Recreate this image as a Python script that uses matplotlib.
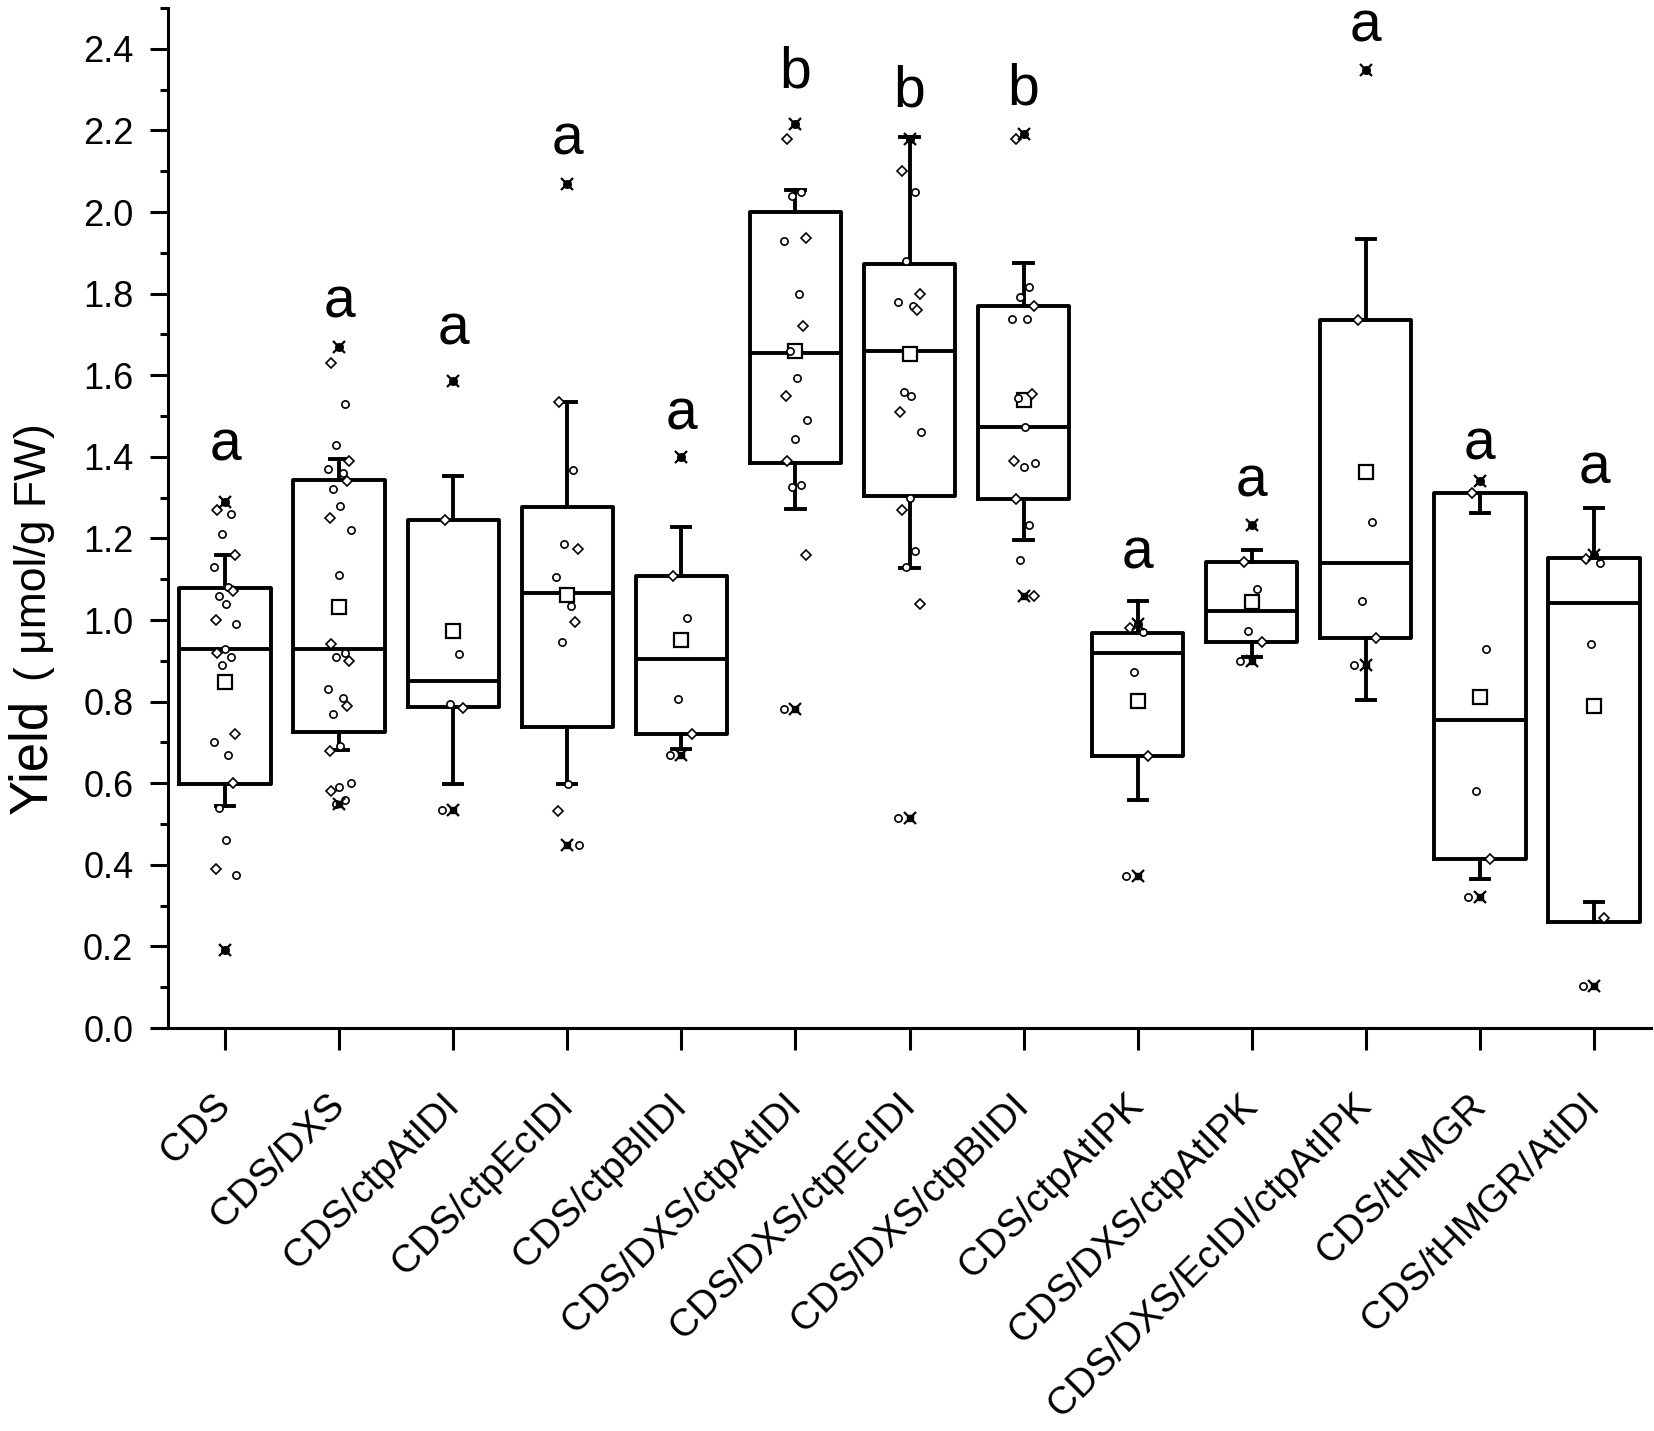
import matplotlib
matplotlib.use('Agg')
import matplotlib.pyplot as plt
from matplotlib.ticker import MultipleLocator, FormatStrFormatter
import numpy as np

plt.rcParams['font.family'] = ['Liberation Sans', 'DejaVu Sans']

categories = ['CDS', 'CDS/DXS', 'CDS/ctpAtIDI', 'CDS/ctpEcIDI', 'CDS/ctpBlIDI',
              'CDS/DXS/ctpAtIDI', 'CDS/DXS/ctpEcIDI', 'CDS/DXS/ctpBlIDI',
              'CDS/ctpAtIPK', 'CDS/DXS/ctpAtIPK', 'CDS/DXS/EcIDI/ctpAtIPK',
              'CDS/tHMGR', 'CDS/tHMGR/AtIDI']

q1 = [0.597, 0.726, 0.787, 0.738, 0.720, 1.385, 1.305, 1.297, 0.667, 0.947, 0.956, 0.413, 0.260]
median = [0.928, 0.928, 0.851, 1.067, 0.905, 1.655, 1.660, 1.473, 0.919, 1.021, 1.140, 0.755, 1.041]
q3 = [1.078, 1.342, 1.245, 1.276, 1.107, 2.001, 1.872, 1.769, 0.969, 1.142, 1.736, 1.311, 1.151]
whisker_low = [0.543, 0.681, 0.598, 0.598, 0.683, 1.273, 1.127, 1.197, 0.559, 0.910, 0.804, 0.365, 0.309]
whisker_high = [1.160, 1.394, 1.353, 1.535, 1.227, 2.053, 2.184, 1.876, 1.046, 1.172, 1.935, 1.262, 1.275]
mean = [0.848, 1.033, 0.974, 1.062, 0.950, 1.660, 1.653, 1.539, 0.801, 1.044, 1.363, 0.811, 0.790]

pts_cds = [1.29, 1.27, 1.26, 1.21, 1.16, 1.13, 1.08, 1.07, 1.06, 1.04, 1.00, 0.99, 0.93,
           0.92, 0.91, 0.89, 0.72, 0.70, 0.67, 0.60, 0.54, 0.46, 0.39, 0.375, 0.19]
pts_dxs = [1.67, 1.63, 1.53, 1.43, 1.39, 1.37, 1.36, 1.34, 1.32, 1.28, 1.25, 1.22, 1.11, 0.94,
           0.92, 0.91, 0.90, 0.83, 0.81, 0.79, 0.77, 0.69, 0.68, 0.60, 0.59, 0.58, 0.56, 0.55]
pts_at_idi = [1.587, 1.245, 0.917, 0.795, 0.785, 0.535]
pts_ec_idi = [2.068, 1.535, 1.368, 1.186, 1.174, 1.105, 1.035, 0.994, 0.945, 0.598, 0.533, 0.449]
pts_bl_idi = [1.40, 1.107, 1.005, 0.806, 0.720, 0.670]
pts_dxs_at_idi = [2.216, 2.18, 2.05, 2.04, 1.936, 1.93, 1.80, 1.72, 1.66, 1.593, 1.55, 1.49,
                  1.444, 1.39, 1.33, 1.325, 1.16, 0.783]
pts_dxs_ec_idi = [2.18, 2.10, 2.05, 1.88, 1.80, 1.78, 1.77, 1.76, 1.56, 1.55, 1.51, 1.46,
                  1.30, 1.27, 1.17, 1.13, 1.04, 0.514]
pts_dxs_bl_idi = [2.19, 2.18, 1.817, 1.792, 1.769, 1.737, 1.737, 1.553, 1.545, 1.473, 1.39,
                  1.384, 1.376, 1.297, 1.232, 1.146, 1.060]
pts_at_ipk = [0.99, 0.98, 0.97, 0.872, 0.667, 0.373]
pts_dxs_at_ipk = [1.234, 1.142, 1.077, 0.973, 0.947, 0.90]
pts_dxs_ec_at_ipk = [2.348, 1.736, 1.239, 1.046, 0.956, 0.890]
pts_hmgr = [1.340, 1.311, 0.928, 0.580, 0.413, 0.321]
pts_hmgr_at_idi = [1.16, 1.15, 1.14, 0.942, 0.27, 0.103]

points = [pts_cds, pts_dxs, pts_at_idi, pts_ec_idi, pts_bl_idi, pts_dxs_at_idi,
          pts_dxs_ec_idi, pts_dxs_bl_idi, pts_at_ipk, pts_dxs_at_ipk,
          pts_dxs_ec_at_ipk, pts_hmgr, pts_hmgr_at_idi]

letters = ['a', 'a', 'a', 'a', 'a', 'b', 'b', 'b', 'a', 'a', 'a', 'a', 'a']
letter_y = [1.39, 1.742, 1.676, 2.14, 1.466, 2.306, 2.259, 2.264, 1.126, 1.303, 2.418, 1.393, 1.335]

W, H = 1654, 1431
fig = plt.figure(figsize=(W / 100, H / 100), dpi=100)
ax = fig.add_axes([168 / W, 1 - 1028 / H, (1651 - 168) / W, (1028 - 8) / H])

pos = np.arange(1, len(categories) + 1)
stats = []
for i in range(len(categories)):
    stats.append(dict(med=median[i], q1=q1[i], q3=q3[i], whislo=whisker_low[i],
                      whishi=whisker_high[i], mean=mean[i], fliers=[]))

lw = 2.8
ax.bxp(stats, positions=pos, widths=0.8, showmeans=True, showfliers=False,
       capwidths=0.16,
       boxprops=dict(color='black', linewidth=lw),
       medianprops=dict(color='black', linewidth=lw),
       whiskerprops=dict(color='black', linewidth=lw),
       capprops=dict(color='black', linewidth=lw),
       meanprops=dict(marker='s', markerfacecolor='white', markeredgecolor='black',
                      markersize=9.5, markeredgewidth=1.6))

jitter = [0.0, -0.07, 0.05, -0.03, 0.09, -0.10, 0.03, 0.07, -0.05, 0.01, -0.08, 0.10]
markers = ['o', 'D', 'o', 'o', 'D', 'o']
for i, vals in enumerate(points):
    for j, v in enumerate(vals):
        mk = markers[j % len(markers)]
        ax.plot(pos[i] + jitter[j % len(jitter)], v, linestyle='none',
                marker=mk, markersize=5.2 if mk == 'o' else 4.6,
                markerfacecolor='white', markeredgecolor='black', markeredgewidth=1.2, zorder=4)
    lo, hi = min(vals), max(vals)
    ax.plot([pos[i], pos[i]], [lo, hi], linestyle='none', marker='x', markersize=9,
            markeredgewidth=1.6, color='black', zorder=5)
    ax.plot([pos[i], pos[i]], [lo, hi], linestyle='none', marker='s', markersize=4,
            color='black', zorder=5)

for i in range(len(categories)):
    ax.text(pos[i], letter_y[i], letters[i], ha='center', va='baseline', fontsize=41)

ax.set_xlim(0.5, len(categories) + 0.5)
ax.set_ylim(0, 2.5)
ax.set_xticks(pos)
ax.set_xticklabels(categories, rotation=45, ha='right', va='center',
                   rotation_mode='anchor', fontsize=28)
ax.yaxis.set_major_locator(MultipleLocator(0.2))
ax.yaxis.set_minor_locator(MultipleLocator(0.1))
ax.yaxis.set_major_formatter(FormatStrFormatter('%.1f'))
ax.tick_params(axis='y', which='major', direction='out', length=13, width=2.2,
               labelsize=26, pad=12)
ax.tick_params(axis='y', which='minor', direction='out', length=6, width=2.2)
ax.tick_params(axis='x', which='major', direction='out', length=16, width=2.2, pad=36)
for s in ['top', 'right']:
    ax.spines[s].set_visible(False)
for s in ['left', 'bottom']:
    ax.spines[s].set_linewidth(2.2)

# y label: "Yield" larger, units smaller, sharing a baseline
t1 = fig.text(46 / W, 1 - 814 / H, 'Yield', rotation=90, rotation_mode='anchor',
              ha='left', va='baseline', fontsize=38)
fig.canvas.draw()
r = fig.canvas.get_renderer()
bb = t1.get_window_extent(renderer=r)
fig.text(46 / W, (bb.y1 + 18) / H, '( μmol/g FW)', rotation=90, rotation_mode='anchor',
         ha='left', va='baseline', fontsize=32)

fig.savefig('out.png', dpi=100)
